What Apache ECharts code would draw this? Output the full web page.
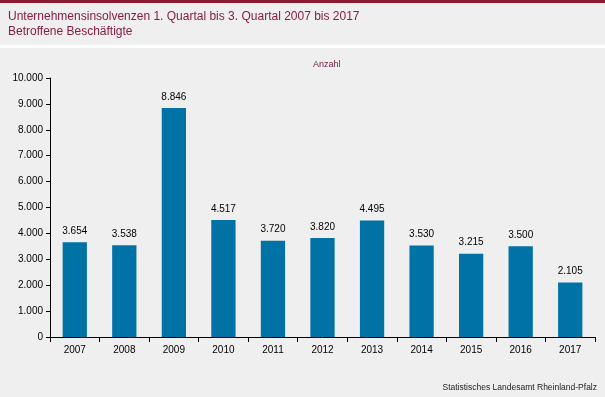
<!DOCTYPE html>
<html><head><meta charset="utf-8">
<script src="https://cdn.jsdelivr.net/npm/echarts@6/dist/echarts.min.js"></script>
<style>html,body{margin:0;padding:0;background:#eeefee}#c{width:605px;height:397px}</style>
</head><body><div id="c"></div>
<script>
const years = ['2007','2008','2009','2010','2011','2012','2013','2014','2015','2016','2017'];
const values = [3654,3538,8846,4517,3720,3820,4495,3530,3215,3500,2105];
const titleLines = ['Unternehmensinsolvenzen 1. Quartal bis 3. Quartal 2007 bis 2017','Betroffene Beschäftigte'];
const unitLabel = 'Anzahl';
const sourceText = 'Statistisches Landesamt Rheinland-Pfalz';

const fmt = v => String(v).replace(/\B(?=(\d{3})+(?!\d))/g, '.');
const chart = echarts.init(document.getElementById('c'), null, {renderer:'canvas'});
chart.setOption({
  backgroundColor:'#eeefee',
  animation:false,
  graphic:[
    {type:'rect', shape:{x:0,y:0,width:605,height:3}, style:{fill:'#8a1b30'}},
    {type:'rect', shape:{x:0,y:45,width:605,height:3}, style:{fill:'#ffffff'}},
    {type:'text', left:8, top:9, style:{text:titleLines.join('\n'), fill:'#8a1b44', font:'12px "Liberation Sans", Arial, sans-serif', lineHeight:15}},
    {type:'text', left:313, top:60, style:{text:unitLabel, fill:'#7a2048', font:'9px "Liberation Sans", Arial, sans-serif'}},
    {type:'text', right:8, top:383, style:{text:sourceText, fill:'#222', font:'8.5px "Liberation Sans", Arial, sans-serif'}}
  ],
  grid:{left:50, right:10, top:78, bottom:60, containLabel:false},
  xAxis:{type:'category', data:years, boundaryGap:true,
    axisLine:{lineStyle:{color:'#000', width:1}},
    axisTick:{show:true, length:5, lineStyle:{color:'#000'}},
    axisLabel:{color:'#000', fontSize:10, fontFamily:'"Liberation Sans", Arial, sans-serif', margin:8}},
  yAxis:{type:'value', min:0, max:10000, interval:1000,
    axisLine:{show:true, lineStyle:{color:'#000', width:1}},
    axisTick:{show:true, length:4, lineStyle:{color:'#000'}},
    splitLine:{show:false},
    axisLabel:{color:'#000', fontSize:10, fontFamily:'"Liberation Sans", Arial, sans-serif', margin:7, formatter:fmt}},
  series:[{type:'bar', data:values, barWidth:'49%', itemStyle:{color:'#0072a6'},
    label:{show:true, position:'top', distance:6, color:'#000', fontSize:10, fontFamily:'"Liberation Sans", Arial, sans-serif', formatter:p=>fmt(p.value)}}]
});
</script></body></html>
